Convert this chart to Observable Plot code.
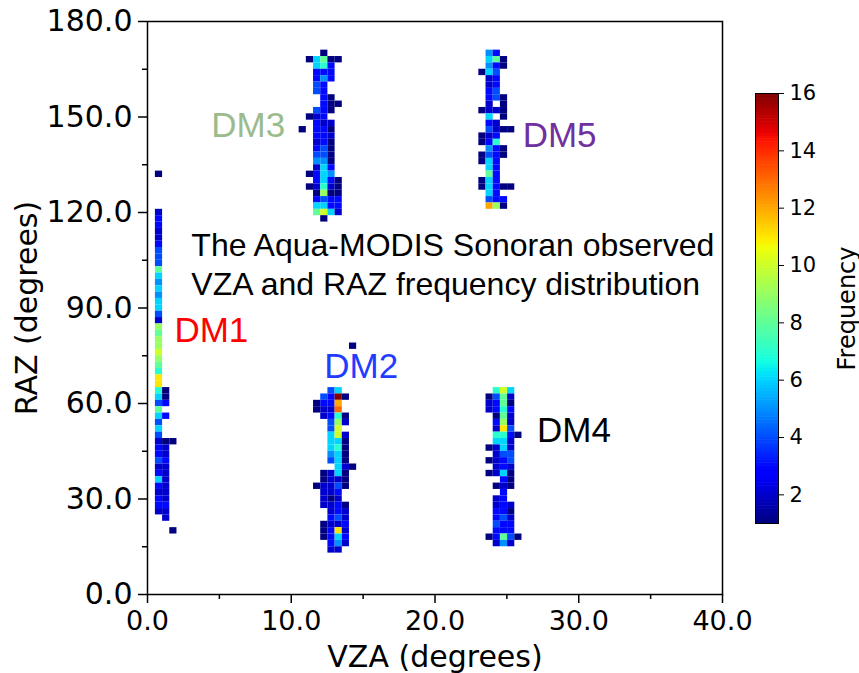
<!DOCTYPE html>
<html><head><meta charset="utf-8">
<script src="https://cdn.jsdelivr.net/npm/d3@7"></script>
<script src="https://cdn.jsdelivr.net/npm/@observablehq/plot@0.6"></script>
<style>
body{margin:0;background:#fff;}
#wrap{position:relative;width:859px;height:673px;overflow:hidden;}
#wrap > svg{position:absolute;top:0;left:0;}
#wrap > svg.cb{left:740px;}
g[aria-label="x-axis tick label"]{font-size:27px;}
g[aria-label="y-axis tick label"]{font-size:30px;}
svg.cb g[aria-label="y-axis tick label"]{font-size:21px;}
g[aria-label="x-axis label"], g[aria-label="y-axis label"]{font-size:30px;}
svg.cb g[aria-label="y-axis label"]{font-size:24px;}
</style></head><body><div id="wrap"></div>
<script>
// ---- bins and ticks ----
const vzaBin = 0.5, razBin = 2;
const xTicks = [0, 10, 20, 30, 40], xMinor = [5, 15, 25, 35];
const yTicks = [0, 30, 60, 90, 120, 150, 180], yMinor = [15, 45, 75, 105, 135, 165];
const cbTicks = [2, 4, 6, 8, 10, 12, 14, 16];
const countDomain = [1, 16];

// ---- DM1 (columns listed top -> bottom, first row lower edge = dm1RazTop) ----
const dm1Vza = [0.55, 1.05, 1.55];
const dm1RazTop = 131;
const dm1Col1 = [1,0,0,0,0,0, 2,3,3,2,2,3,4,4,4,8, 6,5,6,5,6,6,4,2,9,8, 9,9,10,9,8,7,11,11,7,6, 4,8,6,4,6,4,2,3,3,4, 2,3,6,3,2,3,3,2,0,0,0];
const dm1Col2 = [0,0,0,0,0,0,0,0,0,0, 0,0,0,0,0,0,0,0,0,0, 0,0,0,0,0,0,0,0,0,0, 0,0,0,0,1,1,3,0,3,0, 0,0,1,2,2,3,2,2,2,2, 2,2,3,2,2,0,0];
const dm1Col3 = [0,0,0,0,0,0,0,0,0,0, 0,0,0,0,0,0,0,0,0,0, 0,0,0,0,0,0,0,0,0,0, 0,0,0,0,0,0,0,0,0,0, 0,0,1,0,0,0,0,0,0,0, 0,0,0,0,0,0,1];

// ---- DM3 (rows top -> bottom) ----
const dm3Vza = [10.55, 11.05, 11.55, 12.05, 12.55, 13.05];
const dm3RazTop = 169;
const dm3Rows = [
  [0,0,0,1,0,0],[0,1,6,8,1,1],[0,0,6,7,3,0],[0,0,3,3,3,0],[0,0,3,5,3,0],
  [0,0,4,3,0,0],[0,0,4,3,0,0],[0,0,0,3,1,0],[0,0,0,3,1,1],[0,0,4,3,1,0],
  [0,1,2,3,0,0],[0,0,3,2,2,0],[1,0,3,3,1,0],[0,0,3,3,2,0],[0,0,2,3,1,0],
  [0,0,3,4,1,0],[0,0,4,4,1,0],[0,0,5,5,1,0],[0,0,2,6,3,0],[0,1,3,6,5,0],
  [0,0,3,6,3,1],[0,1,2,7,2,1],[0,0,1,9,1,1],[0,0,3,4,3,3],[0,0,6,6,3,3],
  [0,0,8,10,6,2],[0,0,0,1,0,0]
];

// ---- DM5 ----
const dm5Vza = [23.05, 23.55, 24.05, 24.55, 25.05];
const dm5RazTop = 169;
const dm5Rows = [
  [0,5,3,0,0],[0,6,8,1,0],[0,5,3,1,0],[1,6,4,0,0],[0,2,3,0,0],
  [0,2,3,0,0],[0,3,4,0,0],[0,3,4,1,0],[0,2,0,1,0],[1,2,2,1,0],
  [0,6,0,1,0],[0,3,2,0,0],[0,4,2,1,1],[1,2,3,0,0],[1,3,7,0,0],
  [0,5,3,1,0],[1,4,3,1,0],[1,6,3,0,0],[0,6,3,0,0],[0,8,3,0,0],
  [1,6,3,0,0],[1,6,3,1,1],[0,6,3,0,0],[0,4,3,3,0],[0,12,9,1,0]
];

// ---- DM2 ----
const dm2Vza = [11.55, 12.05, 12.55, 13.05, 13.55, 14.05];
const dm2RazTop = 77;
const dm2Rows = [
  [0,0,0,0,0,1],[0,0,0,0,0,0],[0,0,0,0,0,0],[0,0,0,0,0,0],[0,0,0,0,0,0],[0,0,0,0,0,0],[0,0,0,0,0,0],
  [0,0,4,6,0,0],[0,4,3,16,1,0],[1,3,3,12,0,0],[1,2,2,13,0,0],[0,2,3,7,1,0],
  [0,0,4,9,2,0],[0,0,4,10,0,0],[0,0,6,10,2,0],[0,0,6,6,1,0],[0,0,6,7,1,0],
  [0,0,5,6,1,0],[0,0,4,6,1,0],[0,0,0,6,2,1],[0,1,2,6,1,0],[0,1,2,2,1,0],
  [1,2,2,4,1,0],[0,2,2,3,0,0],[0,2,1,2,0,0],[0,2,2,3,1,0],[0,0,2,3,2,0],
  [0,0,3,4,2,0],[0,1,2,2,3,0],[0,1,3,11,2,0],[0,1,3,6,3,0],[0,0,3,5,2,0],
  [0,0,2,2,0,0]
];

// ---- DM4 ----
const dm4Vza = [23.55, 24.05, 24.55, 25.05, 25.55];
const dm4RazTop = 63;
const dm4Rows = [
  [0,7,10,6,0],[1,4,8,2,0],[2,3,8,1,0],[2,3,7,3,0],[0,1,8,2,0],
  [0,3,9,2,0],[0,2,11,4,0],[0,7,7,3,1],[0,6,6,2,0],[1,2,6,2,0],
  [0,2,4,4,0],[1,2,3,4,0],[0,2,3,2,0],[1,2,6,1,0],[0,0,3,1,0],
  [0,1,2,1,0],[0,0,3,0,0],[0,2,3,0,0],[0,2,3,2,0],[0,3,3,1,0],
  [0,3,4,2,0],[0,4,3,3,0],[0,3,3,3,0],[1,3,8,4,1],[0,2,5,2,0]
];

// ---- text ----
const dmLabels = ["DM1", "DM2", "DM3", "DM4", "DM5"];
const titleLines = ["The Aqua-MODIS Sonoran observed", "VZA and RAZ frequency distribution"];

// ---- build cell table ----
function cells(vza, razTop, rows) {
  const out = [];
  rows.forEach((row, i) => row.forEach((c, j) => {
    if (c > 0) out.push({vza: vza[j], raz: razTop - i * razBin, count: c});
  }));
  return out;
}
const dm1Rows = dm1Col1.map((v, i) => [v, dm1Col2[i], dm1Col3[i]]);
const data = [
  ...cells(dm1Vza, dm1RazTop, dm1Rows),
  ...cells(dm3Vza, dm3RazTop, dm3Rows),
  ...cells(dm5Vza, dm5RazTop, dm5Rows),
  ...cells(dm2Vza, dm2RazTop, dm2Rows),
  ...cells(dm4Vza, dm4RazTop, dm4Rows)
];

// matplotlib "jet"
const jr = d3.scaleLinear().domain([0, 0.35, 0.66, 0.89, 1]).range([0, 0, 1, 1, 0.5]).clamp(true);
const jg = d3.scaleLinear().domain([0, 0.125, 0.375, 0.64, 0.91, 1]).range([0, 0, 1, 1, 0, 0]).clamp(true);
const jb = d3.scaleLinear().domain([0, 0.11, 0.34, 0.65, 1]).range([0.5, 1, 1, 0, 0]).clamp(true);
const jet = t => d3.rgb(255 * jr(t), 255 * jg(t), 255 * jb(t)).formatHex();
const colorScale = {type: "linear", domain: countDomain, interpolate: jet};

const font = "DejaVu Sans";
const annFont = "Liberation Sans, Arial, Helvetica, sans-serif";

const main = Plot.plot({
  width: 859, height: 673,
  marginLeft: 147, marginRight: 137, marginTop: 21, marginBottom: 79,
  style: {fontFamily: font, background: "white"},
  x: {domain: [0, 40]},
  y: {domain: [0, 180]},
  color: colorScale,
  marks: [
    Plot.rect(data, {x1: "vza", x2: d => d.vza + vzaBin, y1: "raz", y2: d => d.raz + razBin, fill: "count"}),
    Plot.axisX({ticks: xTicks, tickFormat: d3.format(".1f"), tickSize: 9, tickPadding: 7, strokeWidth: 1.5,
      label: "VZA (degrees)", labelAnchor: "center", labelOffset: 72, labelArrow: "none", fill: "black"}),
    Plot.axisX({ticks: xMinor, tickFormat: () => "", tickSize: 5, strokeWidth: 1.5, label: null}),
    Plot.axisY({ticks: yTicks, tickFormat: d3.format(".1f"), tickSize: 9, tickPadding: 6, strokeWidth: 1.5,
      label: "RAZ (degrees)", labelAnchor: "center", labelOffset: 132, labelArrow: "none", fill: "black"}),
    Plot.axisY({ticks: yMinor, tickFormat: () => "", tickSize: 5, strokeWidth: 1.5, label: null}),
    Plot.frame({stroke: "black", strokeWidth: 1.5}),
    Plot.text([titleLines[0]], {x: 3.05, y: 109.6, text: d => d, textAnchor: "start", fontSize: 32, fontFamily: annFont, fill: "black"}),
    Plot.text([titleLines[1]], {x: 3.05, y: 97.4, text: d => d, textAnchor: "start", fontSize: 32, fontFamily: annFont, fill: "black"}),
    Plot.text([dmLabels[0]], {x: 1.87, y: 82.8, text: d => d, textAnchor: "start", fontSize: 35, fontFamily: annFont, fill: "#ff0000"}),
    Plot.text([dmLabels[1]], {x: 12.3, y: 71.5, text: d => d, textAnchor: "start", fontSize: 35, fontFamily: annFont, fill: "#1f3cff"}),
    Plot.text([dmLabels[2]], {x: 4.44, y: 147.2, text: d => d, textAnchor: "start", fontSize: 35, fontFamily: annFont, fill: "#9bbb8d"}),
    Plot.text([dmLabels[3]], {x: 27.1, y: 51.3, text: d => d, textAnchor: "start", fontSize: 35, fontFamily: annFont, fill: "black"}),
    Plot.text([dmLabels[4]], {x: 26.1, y: 144.1, text: d => d, textAnchor: "start", fontSize: 35, fontFamily: annFont, fill: "#7030a0"})
  ]
});

const cbStep = 0.1;
const cbStops = d3.range(countDomain[0], countDomain[1] - 1e-9, cbStep);
const cb = Plot.plot({
  width: 119, height: 673,
  marginLeft: 15, marginRight: 81, marginTop: 93, marginBottom: 150,
  style: {fontFamily: font, background: "transparent"},
  x: {domain: [0, 1], axis: null},
  y: {domain: countDomain},
  color: colorScale,
  marks: [
    Plot.rect(cbStops, {x1: 0, x2: 1, y1: d => d, y2: d => Math.min(d + cbStep + 0.02, countDomain[1]), fill: d => d + cbStep / 2}),
    Plot.frame({stroke: "black", strokeWidth: 1}),
    Plot.axisY({anchor: "right", ticks: cbTicks, tickFormat: d3.format("d"), tickSize: 5, tickPadding: 6, strokeWidth: 1,
      label: "Frequency", labelAnchor: "center", labelOffset: 76, labelArrow: "none", fill: "black"})
  ]
});
cb.classList.add("cb");

const wrap = document.getElementById("wrap");
wrap.appendChild(main);
wrap.appendChild(cb);
</script>
</body></html>
